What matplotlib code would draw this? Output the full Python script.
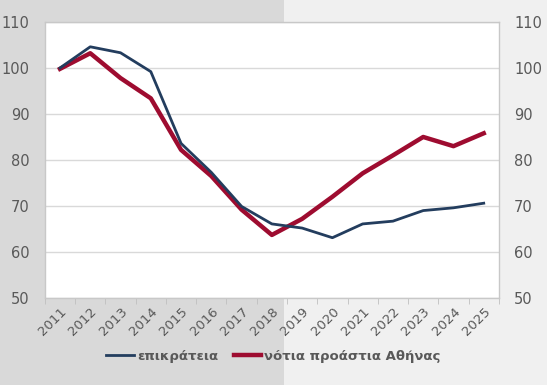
import numpy as np
import matplotlib.pyplot as plt
from matplotlib.patches import Rectangle

years = ['2011', '2012', '2013', '2014', '2015', '2016', '2017', '2018',
         '2019', '2020', '2021', '2022', '2023', '2024', '2025']
epikrateia = [100.0, 104.6, 103.3, 99.2, 83.6, 77.3, 69.9, 66.1,
              65.2, 63.1, 66.1, 66.7, 69.0, 69.6, 70.6]
notia = [99.8, 103.2, 97.8, 93.4, 82.2, 76.5, 69.2, 63.7,
         67.2, 72.0, 77.1, 81.0, 85.0, 83.0, 85.8]
yticks = [50, 60, 70, 80, 90, 100, 110]

grey_text = '#595959'

fig = plt.figure(figsize=(5.47, 3.85), dpi=100)
fig.patch.set_facecolor('#f0f0f0')
fig.add_artist(Rectangle((0, 0), 0.519, 1, transform=fig.transFigure,
                         facecolor='#d9d9d9', edgecolor='none', zorder=-10))

ax = fig.add_axes([0.082, 0.226, 0.83, 0.717])
ax.set_zorder(5)
ax.set_facecolor('white')

x = np.arange(len(years))
ax.plot(x, epikrateia, color='#233d5e', lw=2.0, label='επικράτεια', zorder=3)
ax.plot(x, notia, color='#9e0c30', lw=3.2, label='νότια προάστια Αθήνας', zorder=2)

ax.set_xlim(-0.5, len(years) - 0.5)
ax.set_ylim(50, 110)
ax.set_yticks(yticks)
ax.grid(axis='y', color='#d9d9d9', lw=1)
ax.set_axisbelow(True)

ax.set_xticks(x)
ax.set_xticklabels(years, rotation=45, ha='right', rotation_mode='anchor')
ax.set_xticks(np.arange(len(years) + 1) - 0.5, minor=True)
ax.tick_params(axis='x', which='major', length=0, pad=5, labelsize=9.5, labelcolor=grey_text)
ax.tick_params(axis='x', which='minor', length=4, color='#bfbfbf')
ax.tick_params(axis='y', length=0, pad=11, labelsize=10.5, labelcolor=grey_text,
               labelright=True)

for s in ax.spines.values():
    s.set_color('#c8c8c8')
    s.set_linewidth(1)

leg = fig.legend(loc='center', bbox_to_anchor=(0.5, 0.075), ncol=2, frameon=False,
                 handlelength=2.1, handletextpad=0.2, columnspacing=1.2,
                 prop={'size': 9.5, 'weight': 'bold'})
for t in leg.get_texts():
    t.set_color(grey_text)

fig.savefig('out.png', dpi=100, facecolor=fig.get_facecolor())
